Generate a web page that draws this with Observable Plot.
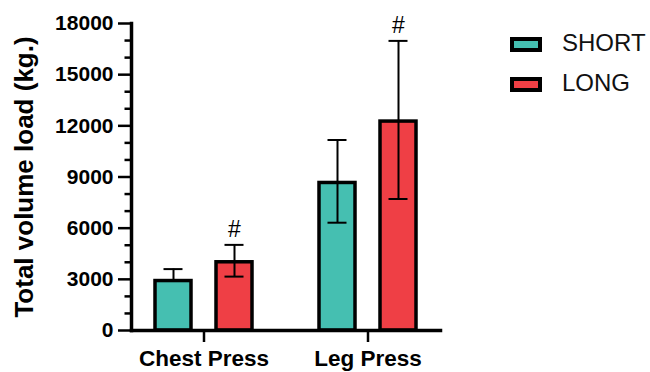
<!DOCTYPE html>
<html>
<head>
<meta charset="utf-8">
<script src="https://cdn.jsdelivr.net/npm/d3@7"></script>
<script src="https://cdn.jsdelivr.net/npm/@observablehq/plot@0.6"></script>
<style>
  html, body { margin: 0; padding: 0; background: #fff; }
  #wrap { position: relative; width: 650px; height: 372px; overflow: hidden; font-family: "Liberation Sans", Arial, sans-serif; }
  #legend { position: absolute; left: 510px; top: 37px; }
  .row { display: flex; align-items: center; height: 15px; margin-bottom: 25px; }
  .sw { box-sizing: border-box; width: 32px; height: 15px; border: 4px solid #000; }
  .lab { margin-left: 20px; font-size: 24px; color: #111; position: relative; top: -2px; }
</style>
</head>
<body>
<div id="wrap"><div id="legend"></div></div>
<script>
// ---- data ----
const exercises = ["Chest Press", "Leg Press"];
const groups = ["SHORT", "LONG"];
const colors = ["#45BFB1", "#EF3F45"];
const meanShort = [2900, 8650];
const meanLong = [4000, 12250];
const errLowShort = [null, 6320];
const errHighShort = [3600, 11170];
const errLowLong = [3160, 7710];
const errHighLong = [5020, 16980];
const sigShort = ["", ""];
const sigLong = ["#", "#"];
const yTicks = [0, 3000, 6000, 9000, 12000, 15000, 18000];
const yMinorTicks = [1000, 2000, 4000, 5000, 7000, 8000, 10000, 11000, 13000, 14000, 16000, 17000];
const yLabel = "Total volume load (kg.)";

const data = [];
exercises.forEach((e, i) => {
  data.push({exercise: e, group: "SHORT", mean: meanShort[i], low: errLowShort[i], high: errHighShort[i], sig: sigShort[i]});
  data.push({exercise: e, group: "LONG", mean: meanLong[i], low: errLowLong[i], high: errHighLong[i], sig: sigLong[i]});
});
const lowData = data.filter(d => d.low != null);

const chart = Plot.plot({
  width: 650,
  height: 372,
  marginLeft: 131,
  marginRight: 210,
  marginTop: 23,
  marginBottom: 42,
  style: {fontFamily: "'Liberation Sans', Arial, sans-serif", color: "#000", background: "transparent", overflow: "visible"},
  fx: {domain: exercises, paddingInner: 0.116, paddingOuter: 0, axis: null, label: null},
  x: {domain: groups, paddingInner: 0.403, paddingOuter: 0.371, axis: null},
  y: {domain: [0, 18000], axis: null},
  color: {domain: groups, range: colors},
  marks: [
    Plot.barY(data, {fx: "exercise", x: "group", y: "mean", fill: "group", stroke: "#000", strokeWidth: 3.5}),
    Plot.ruleX(data, {fx: "exercise", x: "group", y1: d => d.low ?? d.mean, y2: "high", stroke: "#000", strokeWidth: 2}),
    Plot.tickY(data, {fx: "exercise", x: "group", y: "high", stroke: "#000", strokeWidth: 2, inset: 8.5}),
    Plot.tickY(lowData, {fx: "exercise", x: "group", y: "low", stroke: "#000", strokeWidth: 2, inset: 8.5}),
    Plot.text(data, {fx: "exercise", x: "group", y: "high", text: "sig", dy: -15, fontSize: 23, fill: "#000"}),
    Plot.axisY({ticks: yTicks, tickSize: 13, tickPadding: 5, fontSize: 21, fontWeight: "bold", strokeWidth: 2.5, label: null, tickFormat: d => String(d)}),
    Plot.axisY({ticks: yMinorTicks, tickSize: 6.5, strokeWidth: 2.5, label: null, tickFormat: () => ""}),
    Plot.axisY({ticks: [], label: yLabel, labelArrow: "none", labelAnchor: "center", labelOffset: 117, fontSize: 26, fontWeight: "bold"}),
    Plot.axisFx({anchor: "bottom", tickSize: 12, tickPadding: 8, fontSize: 22.5, fontWeight: "bold", strokeWidth: 2.5, label: null}),
    Plot.frame({anchor: "bottom", facet: "super", stroke: "#000", strokeWidth: 3.5}),
    Plot.frame({anchor: "left", facet: "super", stroke: "#000", strokeWidth: 3.5})
  ]
});
document.getElementById("wrap").prepend(chart);

const legend = document.getElementById("legend");
groups.forEach((g, i) => {
  const row = document.createElement("div");
  row.className = "row";
  const sw = document.createElement("div");
  sw.className = "sw";
  sw.style.background = colors[i];
  const lab = document.createElement("span");
  lab.className = "lab";
  lab.textContent = g;
  row.append(sw, lab);
  legend.append(row);
});
</script>
</body>
</html>
